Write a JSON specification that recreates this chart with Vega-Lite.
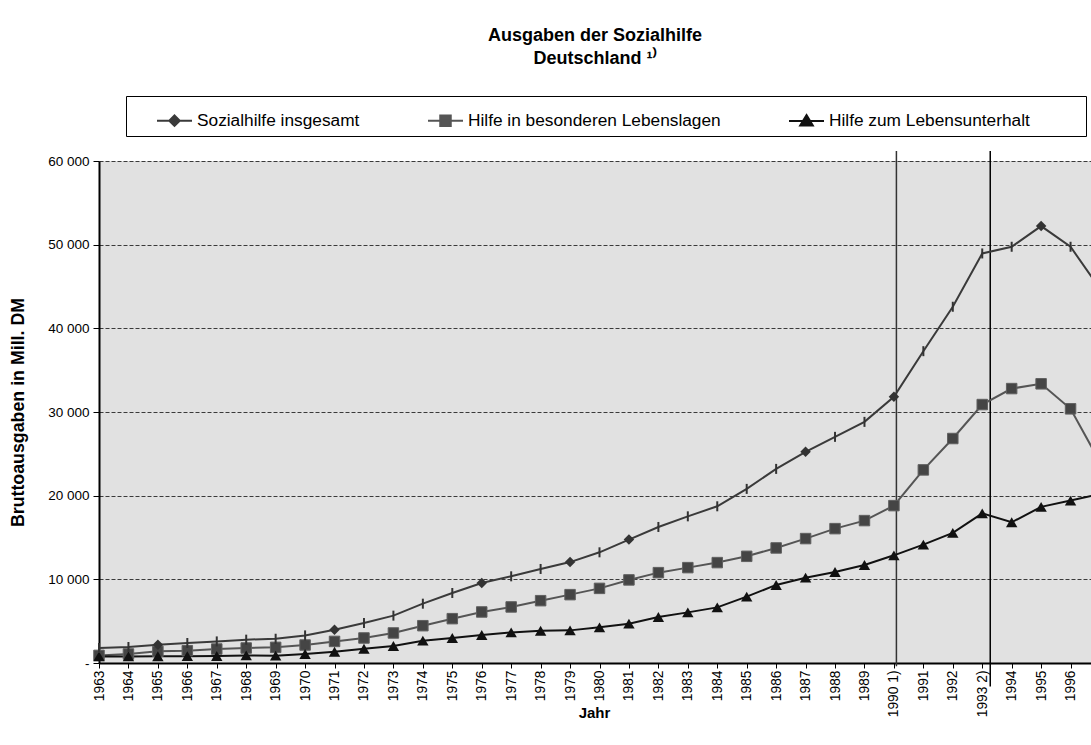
{
  "$schema": "https://vega.github.io/schema/vega-lite/v6.json",
  "autosize": {"type": "none"},
  "width": 992,
  "height": 502,
  "padding": {"left": 99, "top": 161, "right": 0, "bottom": 82},
  "background": "white",
  "config": {
    "font": "Liberation Sans",
    "view": {"fill": "#e1e1e1", "stroke": null}
  },
  "title": {
    "text": ["Ausgaben der Sozialhilfe", "Deutschland ¹⁾"],
    "fontSize": 18,
    "fontWeight": "bold",
    "color": "#000000",
    "anchor": "middle",
    "frame": "group",
    "lineHeight": 23,
    "offset": 28
  },
  "datasets": {
    "werte": [
      {"Jahr": "1963", "Reihe": "Sozialhilfe insgesamt", "Wert": 1790},
      {"Jahr": "1964", "Reihe": "Sozialhilfe insgesamt", "Wert": 1910},
      {"Jahr": "1965", "Reihe": "Sozialhilfe insgesamt", "Wert": 2190},
      {"Jahr": "1966", "Reihe": "Sozialhilfe insgesamt", "Wert": 2390},
      {"Jahr": "1967", "Reihe": "Sozialhilfe insgesamt", "Wert": 2580},
      {"Jahr": "1968", "Reihe": "Sozialhilfe insgesamt", "Wert": 2790},
      {"Jahr": "1969", "Reihe": "Sozialhilfe insgesamt", "Wert": 2900},
      {"Jahr": "1970", "Reihe": "Sozialhilfe insgesamt", "Wert": 3300},
      {"Jahr": "1971", "Reihe": "Sozialhilfe insgesamt", "Wert": 3980},
      {"Jahr": "1972", "Reihe": "Sozialhilfe insgesamt", "Wert": 4780},
      {"Jahr": "1973", "Reihe": "Sozialhilfe insgesamt", "Wert": 5660},
      {"Jahr": "1974", "Reihe": "Sozialhilfe insgesamt", "Wert": 7090},
      {"Jahr": "1975", "Reihe": "Sozialhilfe insgesamt", "Wert": 8370},
      {"Jahr": "1976", "Reihe": "Sozialhilfe insgesamt", "Wert": 9570},
      {"Jahr": "1977", "Reihe": "Sozialhilfe insgesamt", "Wert": 10360},
      {"Jahr": "1978", "Reihe": "Sozialhilfe insgesamt", "Wert": 11240},
      {"Jahr": "1979", "Reihe": "Sozialhilfe insgesamt", "Wert": 12060},
      {"Jahr": "1980", "Reihe": "Sozialhilfe insgesamt", "Wert": 13230},
      {"Jahr": "1981", "Reihe": "Sozialhilfe insgesamt", "Wert": 14750},
      {"Jahr": "1982", "Reihe": "Sozialhilfe insgesamt", "Wert": 16260},
      {"Jahr": "1983", "Reihe": "Sozialhilfe insgesamt", "Wert": 17530},
      {"Jahr": "1984", "Reihe": "Sozialhilfe insgesamt", "Wert": 18730},
      {"Jahr": "1985", "Reihe": "Sozialhilfe insgesamt", "Wert": 20810},
      {"Jahr": "1986", "Reihe": "Sozialhilfe insgesamt", "Wert": 23200},
      {"Jahr": "1987", "Reihe": "Sozialhilfe insgesamt", "Wert": 25240},
      {"Jahr": "1988", "Reihe": "Sozialhilfe insgesamt", "Wert": 27030},
      {"Jahr": "1989", "Reihe": "Sozialhilfe insgesamt", "Wert": 28820},
      {"Jahr": "1990 1)", "Reihe": "Sozialhilfe insgesamt", "Wert": 31810},
      {"Jahr": "1991", "Reihe": "Sozialhilfe insgesamt", "Wert": 37270},
      {"Jahr": "1992", "Reihe": "Sozialhilfe insgesamt", "Wert": 42580},
      {"Jahr": "1993 2)", "Reihe": "Sozialhilfe insgesamt", "Wert": 48950},
      {"Jahr": "1994", "Reihe": "Sozialhilfe insgesamt", "Wert": 49750},
      {"Jahr": "1995", "Reihe": "Sozialhilfe insgesamt", "Wert": 52220},
      {"Jahr": "1996", "Reihe": "Sozialhilfe insgesamt", "Wert": 49750},
      {"Jahr": "1997", "Reihe": "Sozialhilfe insgesamt", "Wert": 44700},
      {"Jahr": "1963", "Reihe": "Hilfe in besonderen Lebenslagen", "Wert": 910},
      {"Jahr": "1964", "Reihe": "Hilfe in besonderen Lebenslagen", "Wert": 1080},
      {"Jahr": "1965", "Reihe": "Hilfe in besonderen Lebenslagen", "Wert": 1390},
      {"Jahr": "1966", "Reihe": "Hilfe in besonderen Lebenslagen", "Wert": 1470},
      {"Jahr": "1967", "Reihe": "Hilfe in besonderen Lebenslagen", "Wert": 1670},
      {"Jahr": "1968", "Reihe": "Hilfe in besonderen Lebenslagen", "Wert": 1790},
      {"Jahr": "1969", "Reihe": "Hilfe in besonderen Lebenslagen", "Wert": 1870},
      {"Jahr": "1970", "Reihe": "Hilfe in besonderen Lebenslagen", "Wert": 2150},
      {"Jahr": "1971", "Reihe": "Hilfe in besonderen Lebenslagen", "Wert": 2580},
      {"Jahr": "1972", "Reihe": "Hilfe in besonderen Lebenslagen", "Wert": 2990},
      {"Jahr": "1973", "Reihe": "Hilfe in besonderen Lebenslagen", "Wert": 3590},
      {"Jahr": "1974", "Reihe": "Hilfe in besonderen Lebenslagen", "Wert": 4460},
      {"Jahr": "1975", "Reihe": "Hilfe in besonderen Lebenslagen", "Wert": 5300},
      {"Jahr": "1976", "Reihe": "Hilfe in besonderen Lebenslagen", "Wert": 6100},
      {"Jahr": "1977", "Reihe": "Hilfe in besonderen Lebenslagen", "Wert": 6700},
      {"Jahr": "1978", "Reihe": "Hilfe in besonderen Lebenslagen", "Wert": 7450},
      {"Jahr": "1979", "Reihe": "Hilfe in besonderen Lebenslagen", "Wert": 8170},
      {"Jahr": "1980", "Reihe": "Hilfe in besonderen Lebenslagen", "Wert": 8920},
      {"Jahr": "1981", "Reihe": "Hilfe in besonderen Lebenslagen", "Wert": 9930},
      {"Jahr": "1982", "Reihe": "Hilfe in besonderen Lebenslagen", "Wert": 10800},
      {"Jahr": "1983", "Reihe": "Hilfe in besonderen Lebenslagen", "Wert": 11400},
      {"Jahr": "1984", "Reihe": "Hilfe in besonderen Lebenslagen", "Wert": 12000},
      {"Jahr": "1985", "Reihe": "Hilfe in besonderen Lebenslagen", "Wert": 12750},
      {"Jahr": "1986", "Reihe": "Hilfe in besonderen Lebenslagen", "Wert": 13750},
      {"Jahr": "1987", "Reihe": "Hilfe in besonderen Lebenslagen", "Wert": 14870},
      {"Jahr": "1988", "Reihe": "Hilfe in besonderen Lebenslagen", "Wert": 16060},
      {"Jahr": "1989", "Reihe": "Hilfe in besonderen Lebenslagen", "Wert": 17020},
      {"Jahr": "1990 1)", "Reihe": "Hilfe in besonderen Lebenslagen", "Wert": 18810},
      {"Jahr": "1991", "Reihe": "Hilfe in besonderen Lebenslagen", "Wert": 23080},
      {"Jahr": "1992", "Reihe": "Hilfe in besonderen Lebenslagen", "Wert": 26830},
      {"Jahr": "1993 2)", "Reihe": "Hilfe in besonderen Lebenslagen", "Wert": 30890},
      {"Jahr": "1994", "Reihe": "Hilfe in besonderen Lebenslagen", "Wert": 32800},
      {"Jahr": "1995", "Reihe": "Hilfe in besonderen Lebenslagen", "Wert": 33370},
      {"Jahr": "1996", "Reihe": "Hilfe in besonderen Lebenslagen", "Wert": 30380},
      {"Jahr": "1997", "Reihe": "Hilfe in besonderen Lebenslagen", "Wert": 24000},
      {"Jahr": "1963", "Reihe": "Hilfe zum Lebensunterhalt", "Wert": 790},
      {"Jahr": "1964", "Reihe": "Hilfe zum Lebensunterhalt", "Wert": 790},
      {"Jahr": "1965", "Reihe": "Hilfe zum Lebensunterhalt", "Wert": 800},
      {"Jahr": "1966", "Reihe": "Hilfe zum Lebensunterhalt", "Wert": 820},
      {"Jahr": "1967", "Reihe": "Hilfe zum Lebensunterhalt", "Wert": 830},
      {"Jahr": "1968", "Reihe": "Hilfe zum Lebensunterhalt", "Wert": 910},
      {"Jahr": "1969", "Reihe": "Hilfe zum Lebensunterhalt", "Wert": 880},
      {"Jahr": "1970", "Reihe": "Hilfe zum Lebensunterhalt", "Wert": 1080},
      {"Jahr": "1971", "Reihe": "Hilfe zum Lebensunterhalt", "Wert": 1350},
      {"Jahr": "1972", "Reihe": "Hilfe zum Lebensunterhalt", "Wert": 1710},
      {"Jahr": "1973", "Reihe": "Hilfe zum Lebensunterhalt", "Wert": 2030},
      {"Jahr": "1974", "Reihe": "Hilfe zum Lebensunterhalt", "Wert": 2670},
      {"Jahr": "1975", "Reihe": "Hilfe zum Lebensunterhalt", "Wert": 2990},
      {"Jahr": "1976", "Reihe": "Hilfe zum Lebensunterhalt", "Wert": 3350},
      {"Jahr": "1977", "Reihe": "Hilfe zum Lebensunterhalt", "Wert": 3660},
      {"Jahr": "1978", "Reihe": "Hilfe zum Lebensunterhalt", "Wert": 3860},
      {"Jahr": "1979", "Reihe": "Hilfe zum Lebensunterhalt", "Wert": 3900},
      {"Jahr": "1980", "Reihe": "Hilfe zum Lebensunterhalt", "Wert": 4260},
      {"Jahr": "1981", "Reihe": "Hilfe zum Lebensunterhalt", "Wert": 4700},
      {"Jahr": "1982", "Reihe": "Hilfe zum Lebensunterhalt", "Wert": 5500},
      {"Jahr": "1983", "Reihe": "Hilfe zum Lebensunterhalt", "Wert": 6050},
      {"Jahr": "1984", "Reihe": "Hilfe zum Lebensunterhalt", "Wert": 6650},
      {"Jahr": "1985", "Reihe": "Hilfe zum Lebensunterhalt", "Wert": 7930},
      {"Jahr": "1986", "Reihe": "Hilfe zum Lebensunterhalt", "Wert": 9330},
      {"Jahr": "1987", "Reihe": "Hilfe zum Lebensunterhalt", "Wert": 10200},
      {"Jahr": "1988", "Reihe": "Hilfe zum Lebensunterhalt", "Wert": 10880},
      {"Jahr": "1989", "Reihe": "Hilfe zum Lebensunterhalt", "Wert": 11720},
      {"Jahr": "1990 1)", "Reihe": "Hilfe zum Lebensunterhalt", "Wert": 12870},
      {"Jahr": "1991", "Reihe": "Hilfe zum Lebensunterhalt", "Wert": 14150},
      {"Jahr": "1992", "Reihe": "Hilfe zum Lebensunterhalt", "Wert": 15550},
      {"Jahr": "1993 2)", "Reihe": "Hilfe zum Lebensunterhalt", "Wert": 17890},
      {"Jahr": "1994", "Reihe": "Hilfe zum Lebensunterhalt", "Wert": 16820},
      {"Jahr": "1995", "Reihe": "Hilfe zum Lebensunterhalt", "Wert": 18660},
      {"Jahr": "1996", "Reihe": "Hilfe zum Lebensunterhalt", "Wert": 19410},
      {"Jahr": "1997", "Reihe": "Hilfe zum Lebensunterhalt", "Wert": 20200}
    ],
    "trennlinien": [
      {"Jahr": "1990 1)", "oben": 61200, "unten": -400},
      {"Jahr": "1993 2)", "oben": 61200, "unten": -2800}
    ]
  },
  "data": {"name": "werte"},
  "encoding": {
    "x": {
      "field": "Jahr",
      "type": "ordinal",
      "scale": {
        "type": "point",
        "padding": 0,
        "range": [0, 1001],
        "domain": ["1963", "1964", "1965", "1966", "1967", "1968", "1969", "1970", "1971", "1972", "1973", "1974", "1975", "1976", "1977", "1978", "1979", "1980", "1981", "1982", "1983", "1984", "1985", "1986", "1987", "1988", "1989", "1990 1)", "1991", "1992", "1993 2)", "1994", "1995", "1996", "1997"]
      },
      "axis": {
        "title": "Jahr",
        "titleFontSize": 15,
        "titleFontWeight": "bold",
        "titleColor": "#000000",
        "titleBaseline": "middle",
        "titleY": 49,
        "titleX": 495,
        "labelAngle": 270,
        "labelFontSize": 13.8,
        "labelColor": "#000000",
        "labelPadding": 2,
        "domainColor": "#000000",
        "domainWidth": 2,
        "tickColor": "#000000",
        "tickSize": 5,
        "grid": false
      }
    },
    "y": {
      "field": "Wert",
      "type": "quantitative",
      "scale": {"domain": [0, 60000], "nice": false},
      "axis": {
        "title": "Bruttoausgaben in Mill. DM",
        "titleFontSize": 17.8,
        "titleFontWeight": "bold",
        "titleColor": "#000000",
        "titleBaseline": "middle",
        "titleX": -81,
        "values": [0, 10000, 20000, 30000, 40000, 50000, 60000],
        "labelExpr": "datum.value == 0 ? '-' : (datum.value / 1000) + ' 000'",
        "labelFontSize": 13.5,
        "labelColor": "#000000",
        "labelPadding": 4,
        "domainColor": "#000000",
        "domainWidth": 2,
        "tickColor": "#000000",
        "tickSize": 6,
        "grid": true,
        "gridColor": "#3a3a3a",
        "gridDash": [4, 2],
        "gridWidth": 1
      }
    }
  },
  "layer": [
    {
      "data": {"name": "trennlinien"},
      "transform": [{"filter": "datum.Jahr == '1990 1)'"}],
      "mark": {"type": "rule", "color": "#333333", "strokeWidth": 1.5, "xOffset": 2.5},
      "encoding": {
        "y": {"field": "oben", "type": "quantitative"},
        "y2": {"field": "unten"}
      }
    },
    {
      "data": {"name": "trennlinien"},
      "transform": [{"filter": "datum.Jahr == '1993 2)'"}],
      "mark": {"type": "rule", "color": "#000000", "strokeWidth": 1.5, "xOffset": 8},
      "encoding": {
        "y": {"field": "oben", "type": "quantitative"},
        "y2": {"field": "unten"}
      }
    },
    {
      "mark": {"type": "line", "strokeWidth": 2},
      "encoding": {
        "color": {
          "field": "Reihe",
          "type": "nominal",
          "scale": {
            "domain": ["Sozialhilfe insgesamt", "Hilfe in besonderen Lebenslagen", "Hilfe zum Lebensunterhalt"],
            "range": ["#3a3a3a", "#555555", "#111111"]
          },
          "legend": {
            "orient": "none",
            "legendX": 27,
            "legendY": -65,
            "direction": "horizontal",
            "title": " ",
            "titleOrient": "left",
            "titleFontSize": 8,
            "titlePadding": 24,
            "strokeColor": "#000000",
            "fillColor": "#ffffff",
            "padding": 6,
            "columnPadding": 64,
            "labelFont": "Liberation Sans",
            "labelFontSize": 17.3,
            "labelColor": "#000000",
            "labelOffset": 4,
            "labelLimit": 400,
            "symbolSize": 1225,
            "symbolStrokeWidth": 2,
            "encode": {
              "symbols": {
                "update": {
                  "shape": {"signal": "datum.value == 'Sozialhilfe insgesamt' ? 'M-1,0H1M0,-0.3L0.3,0L0,0.3L-0.3,0Z' : datum.value == 'Hilfe in besonderen Lebenslagen' ? 'M-1,0H1M-0.3,-0.3H0.3V0.3H-0.3Z' : 'M-1,0H1M0,-0.33L0.36,0.27H-0.36ZM15.35,0'"},
                  "fill": {"signal": "scale('color', datum.value)"},
                  "stroke": {"signal": "scale('color', datum.value)"}
                }
              }
            }
          }
        }
      }
    },
    {
      "transform": [{"filter": "datum.Reihe == 'Hilfe in besonderen Lebenslagen'"}],
      "mark": {"type": "point", "shape": "square", "filled": true, "size": 110, "fill": "#454545", "stroke": "#606060", "strokeWidth": 1, "opacity": 1}
    },
    {
      "transform": [{"filter": "datum.Reihe == 'Hilfe zum Lebensunterhalt'"}],
      "mark": {"type": "point", "shape": "triangle-up", "filled": true, "size": 130, "fill": "#111111", "opacity": 1}
    },
    {
      "transform": [
        {"filter": "datum.Reihe == 'Sozialhilfe insgesamt'"},
        {"filter": {"field": "Jahr", "oneOf": ["1965", "1971", "1976", "1979", "1981", "1987", "1990 1)", "1995"]}}
      ],
      "mark": {"type": "point", "shape": "diamond", "filled": true, "size": 110, "fill": "#333333", "opacity": 1}
    },
    {
      "transform": [
        {"filter": "datum.Reihe == 'Sozialhilfe insgesamt'"},
        {"filter": {"not": {"field": "Jahr", "oneOf": ["1965", "1971", "1976", "1979", "1981", "1987", "1990 1)", "1995"]}}}
      ],
      "mark": {"type": "point", "shape": "M0,-1V1", "filled": false, "size": 100, "stroke": "#333333", "strokeWidth": 2, "opacity": 1}
    }
  ]
}
